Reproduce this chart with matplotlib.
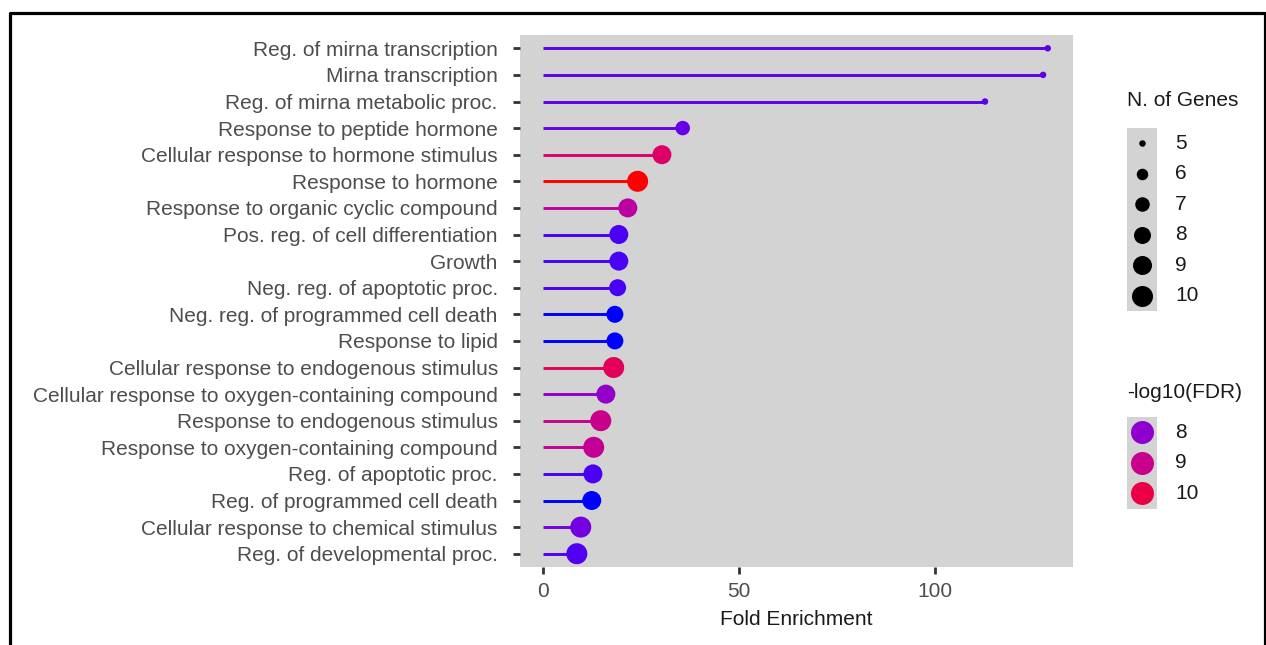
import matplotlib
matplotlib.use("Agg")
import matplotlib.pyplot as plt
from matplotlib.colors import ListedColormap, Normalize
from matplotlib.patches import Rectangle
import numpy as np

terms = [
    "Reg. of mirna transcription",
    "Mirna transcription",
    "Reg. of mirna metabolic proc.",
    "Response to peptide hormone",
    "Cellular response to hormone stimulus",
    "Response to hormone",
    "Response to organic cyclic compound",
    "Pos. reg. of cell differentiation",
    "Growth",
    "Neg. reg. of apoptotic proc.",
    "Neg. reg. of programmed cell death",
    "Response to lipid",
    "Cellular response to endogenous stimulus",
    "Cellular response to oxygen-containing compound",
    "Response to endogenous stimulus",
    "Response to oxygen-containing compound",
    "Reg. of apoptotic proc.",
    "Reg. of programmed cell death",
    "Cellular response to chemical stimulus",
    "Reg. of developmental proc.",
]
fold_enrichment = [128.8, 127.6, 112.8, 35.7, 30.4, 24.2, 21.7, 19.4, 19.4, 19.1,
                   18.4, 18.4, 18.1, 16.1, 14.8, 13.0, 12.8, 12.5, 9.7, 8.7]
n_genes = [5, 5, 5, 7, 9, 10, 9, 9, 9, 8, 8, 8, 10, 9, 10, 10, 9, 9, 10, 10]
neg_log_fdr = [7.59, 7.59, 7.59, 7.65, 9.55, 10.76, 8.69, 7.48, 7.48, 7.48,
               7.31, 7.31, 9.73, 8.07, 9.0, 8.86, 7.48, 7.31, 7.76, 7.52]

size_breaks = [5, 6, 7, 8, 9, 10]
fdr_breaks = [8, 9, 10]

W, H, DPI = 1266, 645, 100


# blue -> red gradient interpolated in Lab, like ggplot's scale_colour_gradient
M = np.array([[0.4124, 0.3576, 0.1805], [0.2126, 0.7152, 0.0722], [0.0193, 0.1192, 0.9505]])
WHITE = np.array([0.95047, 1.0, 1.08883])


def to_lab(rgb):
    c = np.array(rgb, float)
    c = np.where(c > 0.04045, ((c + 0.055) / 1.055) ** 2.4, c / 12.92)
    xyz = M @ c / WHITE
    f = np.where(xyz > (6 / 29) ** 3, np.cbrt(xyz), xyz / (3 * (6 / 29) ** 2) + 4 / 29)
    return np.array([116 * f[1] - 16, 500 * (f[0] - f[1]), 200 * (f[1] - f[2])])


def from_lab(lab):
    L, a, b = lab
    fy = (L + 16) / 116
    f = np.array([fy + a / 500, fy, fy - b / 200])
    xyz = np.where(f > 6 / 29, f ** 3, 3 * (6 / 29) ** 2 * (f - 4 / 29)) * WHITE
    c = np.clip(np.linalg.inv(M) @ xyz, 0, 1)
    c = np.where(c > 0.0031308, 1.055 * c ** (1 / 2.4) - 0.055, 12.92 * c)
    return np.clip(c, 0, 1)


lo, hi = to_lab([0, 0, 1]), to_lab([1, 0, 0])
cmap = ListedColormap([from_lab(lo + (hi - lo) * t) for t in np.linspace(0, 1, 256)])
norm = Normalize(min(neg_log_fdr), max(neg_log_fdr))

diam_px = {5: 6.5, 6: 11.5, 7: 14.5, 8: 17, 9: 19, 10: 21}


def s_of(n):
    return (diam_px[n] * 72 / DPI) ** 2


def fx(px):
    return px / W


def fy(py):
    return 1 - py / H


plt.rcParams["font.family"] = ["Liberation Sans", "DejaVu Sans"]
FS = 15
GRAY = "#d3d3d3"

fig = plt.figure(figsize=(W / DPI, H / DPI), dpi=DPI)

ax = fig.add_axes([fx(520), fy(567), fx(1073) - fx(520), fy(35) - fy(567)])
ax.set_facecolor(GRAY)
for sp in ax.spines.values():
    sp.set_visible(False)

ypos = np.arange(len(terms))[::-1]
cols = cmap(norm(neg_log_fdr))
ax.hlines(ypos, 0, fold_enrichment, colors=cols, lw=2.1, zorder=2)
ax.scatter(fold_enrichment, ypos, s=[s_of(n) for n in n_genes], c=cols,
           linewidths=0, zorder=3)

xmax = max(fold_enrichment)
ax.set_xlim(-0.045 * xmax, 1.05 * xmax)
ax.set_ylim(-0.5, len(terms) - 0.5)
ax.set_yticks(ypos)
ax.set_yticklabels(terms)
ax.set_xticks([0, 50, 100])
ax.tick_params(axis="both", colors="#333333", labelcolor="#4d4d4d",
               labelsize=FS, length=5, width=2)
ax.tick_params(axis="y", pad=11)
ax.tick_params(axis="x", pad=6)
ax.set_xlabel("Fold Enrichment", fontsize=FS, color="#1a1a1a", labelpad=6)

# legend: N. of Genes
fig.text(fx(1127), fy(101), "N. of Genes", fontsize=FS, color="#1a1a1a", va="center")
key_top, key_step = 128, 30.5
lax = fig.add_axes([fx(1127), fy(key_top + key_step * len(size_breaks)),
                    fx(30), key_step * len(size_breaks) / H])
lax.set_xlim(0, 1)
lax.set_ylim(len(size_breaks), 0)
lax.axis("off")
lax.add_patch(Rectangle((0, 0), 1, len(size_breaks), color=GRAY, zorder=0))
for i, n in enumerate(size_breaks):
    lax.scatter(0.5, i + 0.5, s=s_of(n), color="black", linewidths=0)
    fig.text(fx(1175), fy(key_top + key_step * (i + 0.5)), str(n),
             fontsize=FS, color="#1a1a1a", va="center")

# legend: -log10(FDR)
fig.text(fx(1127), fy(393), "-log10(FDR)", fontsize=FS, color="#1a1a1a", va="center")
key_top2 = 417
cax = fig.add_axes([fx(1127), fy(key_top2 + key_step * len(fdr_breaks)),
                    fx(30), key_step * len(fdr_breaks) / H])
cax.set_xlim(0, 1)
cax.set_ylim(len(fdr_breaks), 0)
cax.axis("off")
cax.add_patch(Rectangle((0, 0), 1, len(fdr_breaks), color=GRAY, zorder=0))
for i, v in enumerate(fdr_breaks):
    cax.scatter(0.5, i + 0.5, s=(23 * 72 / DPI) ** 2, color=cmap(norm(v)), linewidths=0)
    fig.text(fx(1175), fy(key_top2 + key_step * (i + 0.5)), str(v),
             fontsize=FS, color="#1a1a1a", va="center")

# black frame of the screenshot (no bottom edge)
fig.add_artist(plt.Line2D([fx(10), fx(10), fx(1264.5), fx(1264.5)],
                          [0, fy(12.5), fy(12.5), 0], color="black", lw=2.3,
                          transform=fig.transFigure))

fig.savefig("out.png", dpi=DPI)
